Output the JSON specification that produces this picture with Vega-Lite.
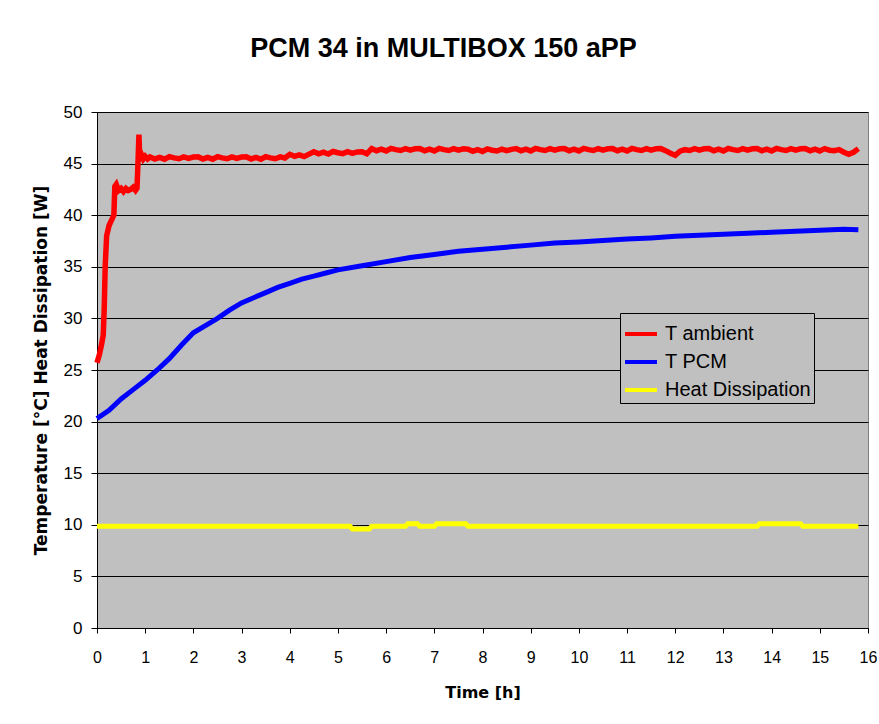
{
  "$schema": "https://vega.github.io/schema/vega-lite/v6.json",
  "width": 771,
  "height": 516,
  "autosize": {"type": "none"},
  "padding": {"left": 97, "top": 112, "right": 11, "bottom": 96},
  "background": "white",
  "title": {"text": "PCM 34 in MULTIBOX 150 aPP", "fontSize": 27, "fontWeight": "bold", "font": "Liberation Sans", "color": "black", "anchor": "middle", "frame": "group", "dx": -39, "offset": 40},
  "config": {
    "font": "Liberation Sans",
    "view": {"fill": "#C0C0C0", "stroke": "#808080", "strokeWidth": 1}
  },
  "datasets": {
    "amb": [
      {"t":0,"v":25.7},{"t":0.05,"v":26.5},{"t":0.1,"v":27.6},{"t":0.13,"v":28.4},{"t":0.15,"v":31},{"t":0.17,"v":35},{"t":0.2,"v":38},{"t":0.25,"v":39},{"t":0.3,"v":39.5},{"t":0.35,"v":40},{"t":0.37,"v":42.8},{"t":0.4,"v":43},{"t":0.45,"v":42.4},{"t":0.5,"v":42.6},{"t":0.55,"v":42.3},{"t":0.6,"v":42.6},{"t":0.65,"v":42.4},{"t":0.7,"v":42.5},{"t":0.75,"v":42.7},{"t":0.8,"v":42.4},{"t":0.83,"v":42.6},{"t":0.85,"v":45},{"t":0.87,"v":47.8},{"t":0.89,"v":45.3},{"t":0.92,"v":45.9},{"t":0.96,"v":45.45},{"t":1.0,"v":45.7},{"t":1.05,"v":45.45},
      {"t":1.1,"v":45.65},{"t":1.2,"v":45.45},{"t":1.3,"v":45.6},{"t":1.4,"v":45.43},{"t":1.5,"v":45.67},{"t":1.6,"v":45.55},{"t":1.7,"v":45.47},{"t":1.8,"v":45.65},{"t":1.9,"v":45.5},{"t":2.0,"v":45.63},
      {"t":2.1,"v":45.65},{"t":2.2,"v":45.45},{"t":2.3,"v":45.6},{"t":2.4,"v":45.43},{"t":2.5,"v":45.67},{"t":2.6,"v":45.55},{"t":2.7,"v":45.47},{"t":2.8,"v":45.65},{"t":2.9,"v":45.5},{"t":3.0,"v":45.63},
      {"t":3.1,"v":45.65},{"t":3.2,"v":45.45},{"t":3.3,"v":45.6},{"t":3.4,"v":45.43},{"t":3.5,"v":45.67},{"t":3.6,"v":45.55},{"t":3.7,"v":45.47},{"t":3.8,"v":45.65},{"t":3.9,"v":45.55},
      {"t":4.0,"v":45.9},{"t":4.1,"v":45.7},{"t":4.2,"v":45.85},{"t":4.3,"v":45.68},{"t":4.4,"v":45.92},
      {"t":4.5,"v":46.15},{"t":4.6,"v":45.95},{"t":4.7,"v":46.1},{"t":4.8,"v":45.93},{"t":4.9,"v":46.17},{"t":5.0,"v":46.05},{"t":5.1,"v":45.97},{"t":5.2,"v":46.15},{"t":5.3,"v":46.0},{"t":5.4,"v":46.13},{"t":5.5,"v":46.15},{"t":5.6,"v":45.95},
      {"t":5.7,"v":46.45},{"t":5.8,"v":46.25},{"t":5.9,"v":46.4},{"t":6.0,"v":46.23},{"t":6.1,"v":46.47},{"t":6.2,"v":46.35},{"t":6.3,"v":46.27},{"t":6.4,"v":46.45},{"t":6.5,"v":46.3},{"t":6.6,"v":46.43},
      {"t":6.7,"v":46.45},{"t":6.8,"v":46.25},{"t":6.9,"v":46.4},{"t":7.0,"v":46.23},{"t":7.1,"v":46.47},{"t":7.2,"v":46.35},{"t":7.3,"v":46.27},{"t":7.4,"v":46.45},{"t":7.5,"v":46.3},{"t":7.6,"v":46.43},
      {"t":7.7,"v":46.4},{"t":7.8,"v":46.2},{"t":7.9,"v":46.35},{"t":8.0,"v":46.18},{"t":8.1,"v":46.42},{"t":8.2,"v":46.3},{"t":8.3,"v":46.22},{"t":8.4,"v":46.4},{"t":8.5,"v":46.25},{"t":8.6,"v":46.38},
      {"t":8.7,"v":46.45},{"t":8.8,"v":46.25},{"t":8.9,"v":46.4},{"t":9.0,"v":46.23},{"t":9.1,"v":46.47},{"t":9.2,"v":46.35},{"t":9.3,"v":46.27},{"t":9.4,"v":46.45},{"t":9.5,"v":46.3},{"t":9.6,"v":46.43},
      {"t":9.7,"v":46.45},{"t":9.8,"v":46.25},{"t":9.9,"v":46.4},{"t":10.0,"v":46.23},{"t":10.1,"v":46.47},{"t":10.2,"v":46.35},{"t":10.3,"v":46.27},{"t":10.4,"v":46.45},{"t":10.5,"v":46.3},{"t":10.6,"v":46.43},
      {"t":10.7,"v":46.45},{"t":10.8,"v":46.25},{"t":10.9,"v":46.4},{"t":11.0,"v":46.23},{"t":11.1,"v":46.47},{"t":11.2,"v":46.35},{"t":11.3,"v":46.27},{"t":11.4,"v":46.45},{"t":11.5,"v":46.3},{"t":11.6,"v":46.43},
      {"t":11.7,"v":46.45},{"t":11.8,"v":46.25},{"t":11.9,"v":46.0},{"t":12.0,"v":45.8},{"t":12.1,"v":46.2},{"t":12.2,"v":46.35},{"t":12.3,"v":46.27},{"t":12.4,"v":46.45},{"t":12.5,"v":46.3},{"t":12.6,"v":46.43},
      {"t":12.7,"v":46.45},{"t":12.8,"v":46.25},{"t":12.9,"v":46.4},{"t":13.0,"v":46.23},{"t":13.1,"v":46.47},{"t":13.2,"v":46.35},{"t":13.3,"v":46.27},{"t":13.4,"v":46.45},{"t":13.5,"v":46.3},{"t":13.6,"v":46.43},
      {"t":13.7,"v":46.45},{"t":13.8,"v":46.25},{"t":13.9,"v":46.4},{"t":14.0,"v":46.23},{"t":14.1,"v":46.47},{"t":14.2,"v":46.35},{"t":14.3,"v":46.27},{"t":14.4,"v":46.45},{"t":14.5,"v":46.3},{"t":14.6,"v":46.43},
      {"t":14.7,"v":46.45},{"t":14.8,"v":46.25},{"t":14.9,"v":46.4},{"t":15.0,"v":46.23},{"t":15.1,"v":46.45},{"t":15.2,"v":46.3},{"t":15.3,"v":46.25},{"t":15.4,"v":46.35},{"t":15.5,"v":46.1},{"t":15.6,"v":45.9},{"t":15.7,"v":46.1},{"t":15.8,"v":46.45}
    ],
    "pcm": [
      {"t":0,"v":20.3},{"t":0.25,"v":21.1},{"t":0.5,"v":22.2},{"t":0.75,"v":23.1},{"t":1.0,"v":24.0},{"t":1.25,"v":25.0},{"t":1.5,"v":26.1},{"t":1.75,"v":27.4},{"t":2.0,"v":28.6},{"t":2.25,"v":29.3},{"t":2.5,"v":30.0},{"t":2.75,"v":30.8},{"t":3.0,"v":31.5},{"t":3.25,"v":32.0},{"t":3.5,"v":32.5},{"t":3.75,"v":33.0},{"t":4.0,"v":33.4},{"t":4.25,"v":33.8},{"t":4.5,"v":34.1},{"t":4.75,"v":34.4},{"t":5.0,"v":34.7},{"t":5.5,"v":35.1},{"t":6.0,"v":35.5},{"t":6.5,"v":35.9},{"t":7.0,"v":36.2},{"t":7.5,"v":36.5},{"t":8.0,"v":36.7},{"t":8.5,"v":36.9},{"t":9.0,"v":37.1},{"t":9.5,"v":37.3},{"t":10.0,"v":37.4},{"t":10.5,"v":37.55},{"t":11.0,"v":37.7},{"t":11.5,"v":37.8},{"t":12.0,"v":37.95},{"t":12.5,"v":38.05},{"t":13.0,"v":38.15},{"t":13.5,"v":38.25},{"t":14.0,"v":38.35},{"t":14.5,"v":38.45},{"t":15.0,"v":38.55},{"t":15.5,"v":38.65},{"t":15.8,"v":38.6}
    ],
    "heat": [
      {"t":0,"v":9.85},{"t":5.25,"v":9.85},{"t":5.3,"v":9.6},{"t":5.65,"v":9.6},{"t":5.7,"v":9.85},{"t":6.4,"v":9.85},{"t":6.45,"v":10.1},{"t":6.65,"v":10.1},{"t":6.7,"v":9.85},{"t":7.0,"v":9.85},{"t":7.05,"v":10.1},{"t":7.65,"v":10.1},{"t":7.7,"v":9.85},{"t":13.7,"v":9.85},{"t":13.75,"v":10.1},{"t":14.6,"v":10.1},{"t":14.65,"v":9.85},{"t":15.8,"v":9.85}
    ]
  },
  "layer": [
    {
      "data": {"name": "amb"},
      "transform": [{"calculate": "'T ambient'", "as": "s"}],
      "mark": {"type": "line", "strokeWidth": 5.5},
      "encoding": {
        "x": {"field": "t", "type": "quantitative"},
        "y": {"field": "v", "type": "quantitative"},
        "color": {"field": "s", "type": "nominal"}
      }
    },
    {
      "data": {"name": "pcm"},
      "transform": [{"calculate": "'T PCM'", "as": "s"}],
      "mark": {"type": "line", "strokeWidth": 5},
      "encoding": {
        "x": {"field": "t", "type": "quantitative"},
        "y": {"field": "v", "type": "quantitative"},
        "color": {"field": "s", "type": "nominal"}
      }
    },
    {
      "data": {"name": "heat"},
      "transform": [{"calculate": "'Heat Dissipation'", "as": "s"}],
      "mark": {"type": "line", "strokeWidth": 5},
      "encoding": {
        "x": {"field": "t", "type": "quantitative", "scale": {"domain": [0, 16], "nice": false},
          "axis": {"title": "Time [h]", "values": [0,1,2,3,4,5,6,7,8,9,10,11,12,13,14,15,16], "grid": false, "domainColor": "black", "tickColor": "black", "tickSize": 5, "labelFontSize": 16, "labelColor": "black", "labelPadding": 16, "labelFlush": false, "titleFont": "DejaVu Sans", "titleFontSize": 16, "titleFontWeight": "bold", "titleColor": "black", "titlePadding": 19}},
        "y": {"field": "v", "type": "quantitative", "scale": {"domain": [0, 50], "nice": false},
          "axis": {"title": "Temperature [°C]  Heat Dissipation [W]", "values": [0,5,10,15,20,25,30,35,40,45,50], "grid": true, "gridColor": "black", "gridOpacity": 1, "domainColor": "black", "tickColor": "black", "tickSize": 6, "labelFontSize": 17, "labelColor": "black", "labelPadding": 9, "titleFont": "DejaVu Sans", "titleFontSize": 17, "titleFontWeight": "bold", "titleColor": "black", "titlePadding": 13}},
        "color": {"field": "s", "type": "nominal",
          "scale": {"domain": ["T ambient", "T PCM", "Heat Dissipation"], "range": ["#FF0000", "#0000FF", "#FFFF00"]},
          "legend": {"title": null, "orient": "none", "legendX": 523, "legendY": 201, "fillColor": "#C0C0C0", "strokeColor": "black", "padding": 3, "symbolType": "stroke", "symbolStrokeWidth": 4, "symbolSize": 1024, "labelFontSize": 20, "labelColor": "black", "labelOffset": 6, "rowPadding": 0, "labelLimit": 300}}
      }
    }
  ]
}
